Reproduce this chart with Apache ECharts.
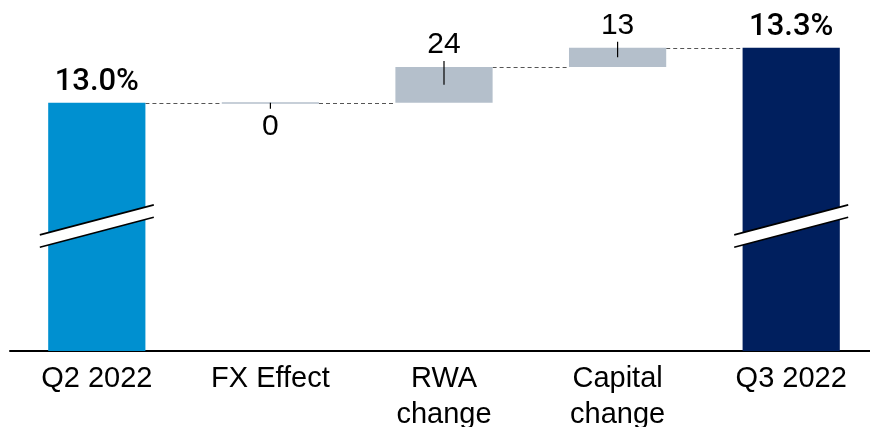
<!DOCTYPE html>
<html>
<head>
<meta charset="utf-8">
<script src="https://cdn.jsdelivr.net/npm/echarts@6/dist/echarts.min.js"></script>
<style>
  html, body { margin: 0; padding: 0; background: #fff; }
  #chart { width: 870px; height: 427px; }
</style>
</head>
<body>
<div id="chart"></div>
<script>
// CET1 ratio bridge, Q2 2022 -> Q3 2022
const categories = ['Q2 2022', 'FX Effect', 'RWA\nchange', 'Capital\nchange', 'Q3 2022'];
const openingRatio = 12.97;          // %
const closingRatio = 13.34;          // %
const bridgeIndex = [1, 2, 3];       // category positions of the bridge steps
const bridgeChangeBps = [0, 24, 13]; // basis points
const totalIndex = [0, 4];
const totalValues = [openingRatio, closingRatio];
const totalColors = ['#0090d0', '#001f5e'];
const axisMin = 11.3;
const axisMax = 13.6;
const breakLevel = 12.14;            // where the truncated axis is marked on the total bars

const BAR_RATIO = 0.56;

// running levels of each bridge step
const bridgeData = [];
let running = openingRatio;
bridgeChangeBps.forEach((bps, k) => {
  const from = running;
  const to = running + bps / 100;
  bridgeData.push([bridgeIndex[k], from, to, bps]);
  running = to;
});
// dashed connectors arrive at each step (and the closing bar) at its starting level
const connectorData = bridgeData.map(d => [d[0], d[1]]).concat([[totalIndex[1], closingRatio]]);

const totalSeriesData = categories.map((c, i) => {
  const k = totalIndex.indexOf(i);
  return k < 0 ? '-' : { value: totalValues[k], itemStyle: { color: totalColors[k] } };
});

const chart = echarts.init(document.getElementById('chart'), null, { renderer: 'canvas' });

chart.setOption({
  animation: false,
  backgroundColor: '#ffffff',
  grid: { left: 10, top: 9, width: 868, height: 342, containLabel: false, outerBoundsMode: 'none' },
  xAxis: {
    type: 'category',
    data: categories,
    axisLine: { show: true, lineStyle: { color: '#000', width: 2 } },
    axisTick: { show: false },
    axisLabel: {
      interval: 0,
      margin: 10,
      color: '#000',
      fontFamily: '"Liberation Sans", Arial, sans-serif',
      fontSize: 29,
      lineHeight: 36
    }
  },
  yAxis: {
    type: 'value',
    min: axisMin,
    max: axisMax,
    show: false,
    splitLine: { show: false }
  },
  series: [
    {
      name: 'connectors',
      type: 'custom',
      z: 1,
      data: connectorData,
      renderItem(params, api) {
        const i = api.value(0);
        const lvl = api.value(1);
        const w = api.size([1, 0])[0] * BAR_RATIO;
        const a = api.coord([i - 1, lvl]);
        const b = api.coord([i, lvl]);
        const y = Math.round(a[1]) + 0.5;
        return {
          type: 'line',
          shape: { x1: a[0] + w / 2, y1: y, x2: b[0] - w / 2, y2: y },
          style: { stroke: '#555', lineWidth: 1, lineDash: [4, 3] }
        };
      }
    },
    {
      name: 'totals',
      type: 'bar',
      z: 2,
      barWidth: (BAR_RATIO * 100) + '%',
      data: totalSeriesData,
      label: {
        show: true,
        position: 'top',
        distance: 5,
        color: '#000',
        fontFamily: 'Roboto, "Liberation Sans", sans-serif',
        fontWeight: 500,
        fontSize: 31,
        formatter: p => p.value.toFixed(1) + '%'
      }
    },
    {
      name: 'bridge',
      type: 'custom',
      z: 3,
      data: bridgeData,
      renderItem(params, api) {
        const i = api.value(0);
        const from = api.value(1);
        const to = api.value(2);
        const bps = api.value(3);
        const w = api.size([1, 0])[0] * BAR_RATIO;
        const p0 = api.coord([i, from]);
        const p1 = api.coord([i, to]);
        const cx = p0[0];
        const top = Math.min(p0[1], p1[1]);
        const h = Math.abs(p0[1] - p1[1]);
        const mid = (p0[1] + p1[1]) / 2;
        const font = '30px "Liberation Sans", Arial, sans-serif';
        const children = [];
        if (bps === 0) {
          children.push({ type: 'rect', shape: { x: cx - w / 2, y: p0[1] - 0.5, width: w, height: 1.5 }, style: { fill: '#b4bfcb' } });
          children.push({ type: 'line', shape: { x1: cx, y1: p0[1], x2: cx, y2: p0[1] + 6 }, style: { stroke: '#000', lineWidth: 1.2 } });
          children.push({ type: 'text', style: { text: String(bps), x: cx, y: p0[1] + 24, align: 'center', verticalAlign: 'middle', font, fill: '#000' } });
        } else {
          children.push({ type: 'rect', shape: { x: cx - w / 2, y: top, width: w, height: h }, style: { fill: '#b4bfcb' } });
          children.push({ type: 'line', shape: { x1: cx, y1: mid, x2: cx, y2: top - 6 }, style: { stroke: '#000', lineWidth: 1.2 } });
          children.push({ type: 'text', style: { text: String(bps), x: cx, y: top - 22, align: 'center', verticalAlign: 'middle', font, fill: '#000' } });
        }
        return { type: 'group', children };
      }
    },
    {
      name: 'axis break',
      type: 'custom',
      z: 4,
      data: totalIndex.map(i => [i, breakLevel]),
      renderItem(params, api) {
        const c = api.coord([api.value(0), api.value(1)]);
        const cx = c[0], cy = c[1];
        const dx = 57, slope = 15, gap = 6.2;
        const upper = [[cx - dx, cy - gap + slope], [cx + dx, cy - gap - slope]];
        const lower = [[cx - dx, cy + gap + slope], [cx + dx, cy + gap - slope]];
        return {
          type: 'group',
          children: [
            { type: 'polygon', shape: { points: [upper[0], upper[1], lower[1], lower[0]] }, style: { fill: '#fff' } },
            { type: 'line', shape: { x1: upper[0][0], y1: upper[0][1], x2: upper[1][0], y2: upper[1][1] }, style: { stroke: '#000', lineWidth: 1.6 } },
            { type: 'line', shape: { x1: lower[0][0], y1: lower[0][1], x2: lower[1][0], y2: lower[1][1] }, style: { stroke: '#000', lineWidth: 1.6 } }
          ]
        };
      }
    }
  ]
});
</script>
</body>
</html>
